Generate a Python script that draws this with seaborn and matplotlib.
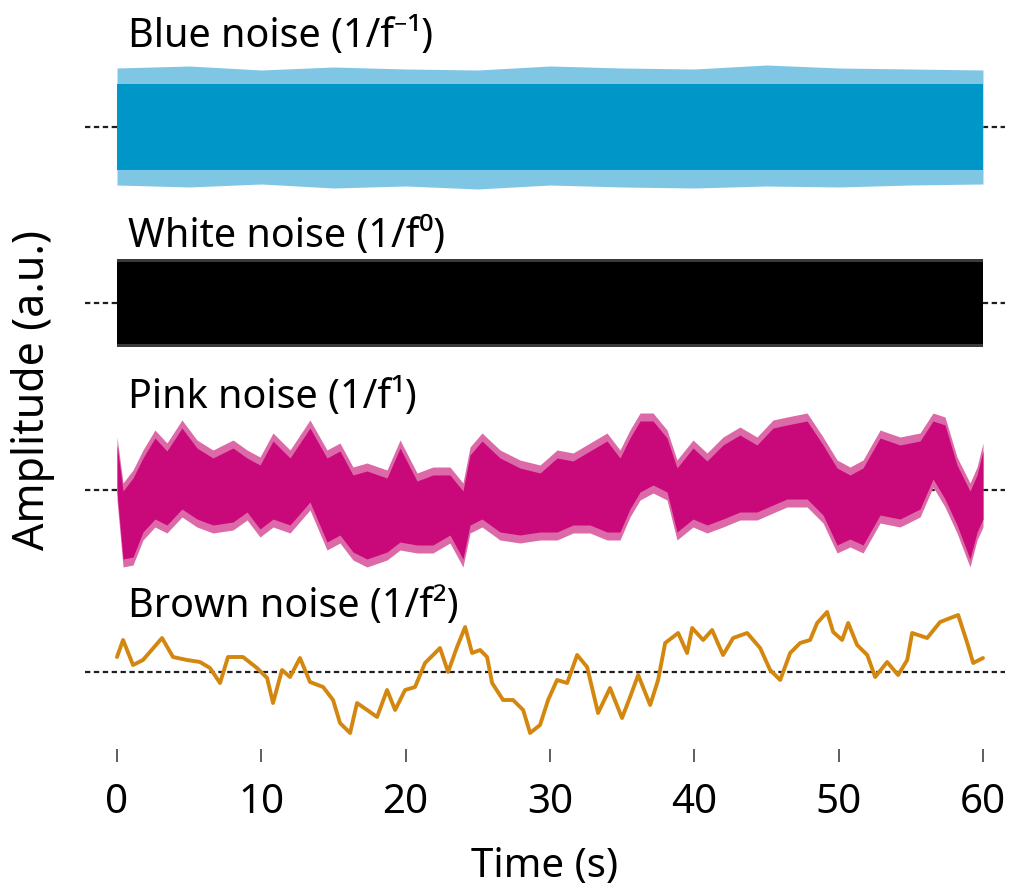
import matplotlib
matplotlib.use("Agg")
import matplotlib.pyplot as plt
import numpy as np
import pandas as pd
import seaborn as sns

# ---- data -------------------------------------------------------------
titles = ["Blue noise (1/f\u207b\u00b9)", "White noise (1/f\u2070)",
          "Pink noise (1/f\u00b9)", "Brown noise (1/f\u00b2)"]
colors = {"blue": "#0096c8", "blue_light": "#7fc6e5",
          "white": "#000000", "white_light": "#3a3a3a",
          "pink": "#c9087a", "pink_light": "#dc6aa8",
          "brown": "#d4870f"}

# blue noise: outer (spike) and dense-core envelopes, a.u.
blue_t = [0, 5, 10, 15, 20, 25, 30, 35, 40, 45, 50, 55, 60]
blue_outer_hi = [5.9, 6.1, 5.7, 6.0, 5.8, 5.7, 6.1, 5.9, 5.8, 6.2, 5.9, 5.8, 5.7]
blue_outer_lo = [-5.8, -6.0, -5.7, -6.1, -5.9, -6.2, -5.8, -6.0, -6.1, -5.9, -6.0, -5.8, -5.7]
blue_core = 4.3

# white noise envelopes
white_t = [0, 10, 20, 30, 40, 50, 60]
white_outer_hi = [4.4, 4.4, 4.4, 4.4, 4.4, 4.4, 4.4]
white_outer_lo = [-4.4, -4.4, -4.4, -4.4, -4.4, -4.4, -4.4]
white_core = 4.1

# pink noise: upper / lower envelope of the trace
pink_t = [0.0, 0.42, 1.11, 1.80, 2.63, 3.46, 4.50, 5.54, 6.65, 8.04, 9.01, 9.91,
          10.81, 11.99, 13.37, 14.55, 15.45, 16.35, 17.32, 18.71, 19.61, 20.79,
          21.89, 23.07, 23.97, 24.46, 25.29, 26.54, 27.92, 29.31, 30.49, 31.60,
          32.77, 33.95, 34.85, 35.54, 36.24, 37.14, 38.11, 38.80, 39.91, 40.88,
          41.99, 43.16, 44.34, 45.45, 46.42, 47.81, 48.92, 49.89, 50.79, 51.69,
          52.87, 54.25, 55.64, 56.54, 57.37, 58.20, 59.10, 59.59, 60.0]
pink_hi = [5.3, 0.7, 2.0, 4.0, 6.0, 4.7, 7.0, 5.0, 4.0, 5.0, 4.0, 3.3,
           5.7, 4.0, 7.0, 4.0, 4.7, 2.3, 2.7, 2.0, 5.0, 1.7,
           2.3, 2.3, 0.7, 4.3, 5.7, 4.0, 3.0, 2.5, 4.0, 3.7,
           4.7, 5.7, 4.0, 6.0, 7.7, 7.7, 6.0, 3.0, 5.0, 3.7,
           5.3, 6.3, 5.3, 7.0, 7.3, 7.7, 5.3, 3.0, 2.3, 3.0,
           6.0, 5.3, 5.7, 7.7, 7.3, 3.3, 0.7, 2.3, 4.7]
pink_lo = [-1.0, -7.7, -7.5, -5.0, -3.7, -4.3, -2.7, -3.7, -4.3, -4.0, -3.0, -4.7,
           -3.7, -4.3, -2.0, -6.0, -5.3, -7.0, -7.7, -7.0, -6.0, -6.3,
           -6.3, -5.3, -7.7, -4.3, -3.7, -5.0, -5.3, -5.0, -5.0, -4.3,
           -4.3, -5.0, -5.0, -2.7, -1.0, -0.3, -1.0, -5.0, -3.7, -4.3,
           -3.7, -3.0, -3.0, -2.3, -1.7, -1.7, -3.3, -6.3, -5.7, -6.3,
           -3.3, -3.7, -2.7, 0.3, -1.7, -4.3, -7.7, -5.0, -3.7]
pink_core_inset = 0.8

# brown noise trace
brown_t = [0.0, 0.42, 1.11, 1.80, 3.12, 3.88, 4.85, 5.75, 6.44, 7.14, 7.69, 8.73,
           9.70, 10.40, 10.81, 11.43, 11.99, 12.68, 13.37, 14.28, 14.97, 15.45,
           16.15, 16.63, 17.33, 18.02, 18.71, 19.27, 19.96, 20.65, 21.34, 21.90,
           22.38, 22.94, 23.56, 24.12, 24.60, 25.16, 25.64, 25.99, 26.75, 27.44,
           28.14, 28.62, 29.31, 29.87, 30.49, 31.19, 31.88, 32.57, 33.33, 34.16,
           34.99, 35.55, 36.11, 36.94, 37.49, 37.98, 38.88, 39.50, 39.85, 40.61,
           41.23, 41.99, 42.69, 43.66, 44.56, 45.25, 45.95, 46.64, 47.33, 48.02,
           48.51, 49.20, 49.62, 50.24, 50.66, 51.28, 51.98, 52.53, 53.36, 54.12,
           54.75, 55.09, 56.13, 57.03, 58.28, 58.91, 59.32, 60.0]
brown_amp = [1.5, 3.2, 0.7, 1.2, 3.4, 1.5, 1.2, 1.0, 0.4, -1.1, 1.5, 1.5,
             0.4, -0.6, -3.1, 0.2, -0.5, 1.4, -1.0, -1.5, -2.8, -5.1,
             -6.1, -3.1, -3.8, -4.5, -1.8, -3.8, -1.8, -1.5, 0.9, 1.7,
             2.4, 0.0, 2.5, 4.5, 1.9, 2.2, 1.5, -1.1, -2.8, -2.8,
             -3.8, -6.1, -5.3, -2.8, -0.8, -1.1, 1.7, 0.5, -4.1, -1.6,
             -4.6, -2.5, -0.3, -3.3, -0.8, 2.9, 3.9, 1.9, 4.4, 3.2,
             4.2, 1.7, 3.4, 3.9, 2.4, 0.2, -0.8, 1.9, 2.9, 3.2,
             4.9, 6.0, 4.0, 3.2, 4.9, 2.7, 1.7, -0.5, 1.0, -0.3,
             1.2, 3.9, 3.4, 5.0, 5.7, 2.9, 0.9, 1.4]

# vertical placement of each trace's zero line, and of its title baseline
row_base = [-12.7, -30.3, -49.0, -67.2]
title_base = [-4.7, -24.7, -40.8, -61.7]
xticks = [0, 10, 20, 30, 40, 50, 60]

# ---- style ------------------------------------------------------------
sns.set_theme(style="white")
plt.rcParams["font.family"] = ["Noto Sans", "DejaVu Sans"]
plt.rcParams["text.color"] = "black"
plt.rcParams["xtick.color"] = "black"

W, H = 1012, 889
fig = plt.figure(figsize=(W / 100, H / 100), dpi=100)
ax = fig.add_axes([85 / W, (H - 749) / H, 920 / W, 749 / H])
ax.set_xlim(-2.217, 61.525)
ax.set_ylim(-74.9, 0)
for s in ax.spines.values():
    s.set_visible(False)

# zero lines
for yb in row_base:
    ax.axhline(yb, color="#1e1e1e", lw=1.6, ls=(0, (2.4, 1.6)), zorder=1)

# blue noise
b = row_base[0]
bt = np.array(blue_t)
ax.fill_between(bt, b + np.array(blue_outer_lo), b + np.array(blue_outer_hi),
                color=colors["blue_light"], lw=0, zorder=2)
ax.fill_between(bt, b - blue_core, b + blue_core, color=colors["blue"], lw=0, zorder=3)

# white noise
b = row_base[1]
wt = np.array(white_t)
ax.fill_between(wt, b + np.array(white_outer_lo), b + np.array(white_outer_hi),
                color=colors["white_light"], lw=0, zorder=2)
ax.fill_between(wt, b - white_core, b + white_core, color=colors["white"], lw=0, zorder=3)

# pink noise
b = row_base[2]
pt = np.array(pink_t)
phi, plo = np.array(pink_hi), np.array(pink_lo)
ax.fill_between(pt, b + plo, b + phi, color=colors["pink_light"], lw=0, zorder=2)
ax.fill_between(pt, b + plo + pink_core_inset, b + phi - pink_core_inset,
                color=colors["pink"], lw=0, zorder=3)

# brown noise
brown_df = pd.DataFrame({"t": brown_t, "y": np.array(brown_amp) + row_base[3]})
sns.lineplot(data=brown_df, x="t", y="y", ax=ax, color=colors["brown"], lw=2.8,
             sort=False, estimator=None, zorder=3)

# titles
for txt, yb in zip(titles, title_base):
    ax.text(0.76, yb, txt, fontsize=28.5, va="baseline", ha="left", color="black")

# axis
ax.set_xticks(xticks)
ax.set_xticklabels([str(v) for v in xticks])
ax.set_yticks([])
ax.tick_params(axis="x", direction="out", length=9.5, width=1.1, color="#333333",
               pad=15, labelsize=29, labelcolor="black", bottom=True)
ax.set_xlabel("Time (s)", fontsize=29, labelpad=17, color="black")
ax.set_ylabel("")
fig.text(33 / W, 1 - 390 / H, "Amplitude (a.u.)", rotation=90, fontsize=31,
         ha="center", va="center", color="black")

fig.savefig("out.png", dpi=100)
